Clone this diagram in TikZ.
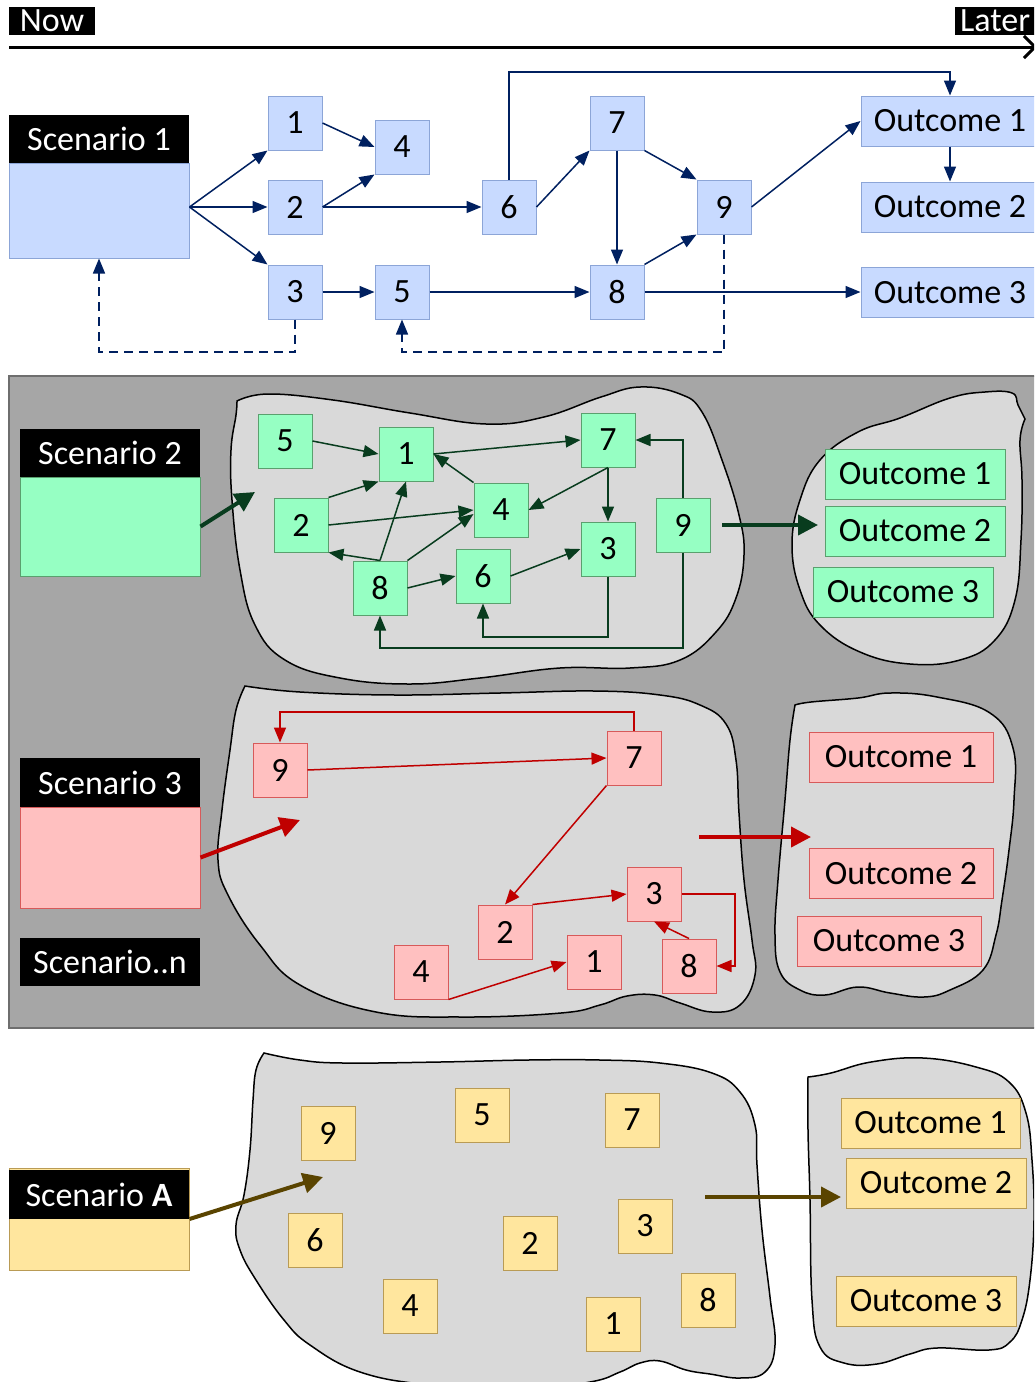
\documentclass[tikz,border=0pt]{standalone}
\usepackage{fontspec}
\setmainfont{Carlito}
\usetikzlibrary{arrows.meta,calc}

\definecolor{navy}{RGB}{0,32,96}
\definecolor{bfill}{RGB}{200,218,255}
\definecolor{bline}{RGB}{140,165,215}
\definecolor{gfill}{RGB}{150,255,195}
\definecolor{gline}{RGB}{90,160,110}
\definecolor{gdark}{RGB}{8,60,30}
\definecolor{rfill}{RGB}{255,192,192}
\definecolor{rline}{RGB}{215,90,90}
\definecolor{rdark}{RGB}{192,0,0}
\definecolor{yfill}{RGB}{255,230,158}
\definecolor{yline}{RGB}{185,155,85}
\definecolor{ydark}{RGB}{90,68,0}
\definecolor{panel}{RGB}{166,166,166}
\definecolor{panelline}{RGB}{110,110,110}
\definecolor{blobfill}{RGB}{217,217,217}

\newcommand\bigtext{\fontsize{34}{40}\selectfont}

\begin{document}
\begin{tikzpicture}[x=1pt,y=-1pt,
  every node/.style={font=\bigtext},
  sq/.style={draw, line width=1pt, minimum width=54pt, minimum height=54pt, inner sep=0pt},
  bsq/.style={sq, fill=bfill, draw=bline},
  gsq/.style={sq, fill=gfill, draw=gline},
  rsq/.style={sq, fill=rfill, draw=rline},
  ysq/.style={sq, fill=yfill, draw=yline},
  outc/.style={draw, line width=1pt, minimum height=50pt, inner sep=0pt},
  hdr/.style={fill=black, text=white, minimum width=180pt, inner sep=0pt},
  tag/.style={fill=black, text=white, minimum height=28pt, inner sep=0pt, inner xsep=5pt},
  blob/.style={draw=black, line width=1.5pt, fill=blobfill},
  thin/.style={line width=1.5pt, -{Triangle[length=15pt,width=12pt]}},
  thick/.style={line width=4pt, -{Triangle[length=20pt,width=20pt]}},
]
\useasboundingbox (0,0) rectangle (1034,1382);
\clip (0,0) rectangle (1034,1382);

% ---------- time axis ----------
\node[tag, minimum width=86pt] (now) at (52,21) {Now};
\node[tag, anchor=west] (later) at (955,21) {Later};
\coordinate (tl0) at (9,47);
\coordinate (tl1) at (1037,47);
\draw[line width=3pt, -{Straight Barb[length=11pt,width=22pt]}] (tl0) -- (tl1);

% ---------- Scenario 1 ----------
\node[hdr, minimum height=48pt] (s1h) at (99,139) {Scenario 1};
\node[draw=bline, fill=bfill, line width=1pt, minimum width=180pt, minimum height=95pt] (s1) at (99,210.5) {};

\node[bsq] (b1) at (295,123) {1};
\node[bsq] (b4) at (402,147) {4};
\node[bsq] (b2) at (295,207) {2};
\node[bsq] (b6) at (509,207) {6};
\node[bsq] (b3) at (295,292) {3};
\node[bsq] (b5) at (402,292) {5};
\node[bsq] (b7) at (617,123) {7};
\node[bsq] (b8) at (617,292) {8};
\node[bsq] (b9) at (724,207) {9};
\node[outc, fill=bfill, draw=bline, minimum width=178pt] (bo1) at (950,121) {Outcome 1};
\node[outc, fill=bfill, draw=bline, minimum width=178pt] (bo2) at (950,207) {Outcome 2};
\node[outc, fill=bfill, draw=bline, minimum width=178pt] (bo3) at (950,292.5) {Outcome 3};

\coordinate (s1o) at (s1.east |- b2.west);
\coordinate (ytop) at (0,72);
\coordinate (ydash) at (0,352);
\begin{scope}[navy, thin]
  \draw (s1o) -- (b1.south west);
  \draw (s1o) -- (b2.west);
  \draw (s1o) -- (b3.north west);
  \draw (b1.east) -- (b4.west);
  \draw (b2.east) -- (b4.south west);
  \draw (b2.east) -- (b6.west);
  \draw (b6.east) -- (b7.south west);
  \draw (b7.south east) -- (b9.north west);
  \draw (b7.south) -- (b8.north);
  \draw (b8.north east) -- (b9.south west);
  \draw (b9.east) -- (bo1.west);
  \draw (b6.north) -- (b6.north |- ytop) -| (bo1.north);
  \draw (bo1.south) -- (bo2.north);
  \draw (b3.east) -- (b5.west);
  \draw (b5.east) -- (b8.west);
  \draw (b8.east) -- (b8.east -| bo3.west);
  \draw[dash pattern=on 9pt off 6pt] (b3.south) -- (b3.south |- ydash) -| (s1.south);
  \draw[dash pattern=on 9pt off 6pt] (b9.south) -- (b9.south |- ydash) -| (b5.south);
\end{scope}

% ---------- grey panel with scenarios 2, 3 ----------
\draw[fill=panel, draw=panelline, line width=1.5pt] (9,376) rectangle (1040,1028);

% scenario 2 clouds
\draw[blob] plot[smooth, tension=0.7] coordinates {(237,401) (268,394) (333,400) (410,413) (486,424) (544,417) (601,397) (640,387) (680,394) (702,412) (722,460) (739,515) (744,555) (736,598) (716,632) (680,660) (630,668) (560,668) (480,678) (410,684) (340,678) (285,660) (255,625) (240,570) (232,500) (231,450) (236,415) (237,401)} -- cycle;
\draw[blob] plot[smooth, tension=0.7] coordinates {(1025,419) (1018,405) (1012,393) (985,392) (950,398) (900,418) (858,432) (820,460) (800,500) (792,545) (800,590) (820,625) (860,652) (910,664) (960,660) (995,640) (1015,600) (1021,540) (1022,480) (1020,440) (1025,419)} -- cycle;

% scenario 3 clouds
\draw[blob] plot[smooth, tension=0.7] coordinates {(245,686) (300,692) (396,695) (500,693) (594,691) (660,695) (700,705) (726,724) (736,760) (739,813) (744,880) (752,940) (755,975) (740,1005) (712,1012) (680,1003) (655,995) (627,996) (600,1005) (561,1013) (462,1017) (376,1012) (300,985) (260,945) (228,895) (218,860) (222,810) (230,750) (236,710) (245,686)} -- cycle;
\draw[blob] plot[smooth, tension=0.7] coordinates {(795,705) (811,702) (858,698) (890,693) (937,697) (990,713) (1013,748) (1014,800) (1009,850) (1002,900) (996,935) (983,970) (950,990) (924,997) (890,993) (858,987) (825,995) (800,990) (780,972) (775,935) (778,880) (785,800) (790,740) (795,705)} -- cycle;

% Scenario 2
\node[hdr, minimum height=48pt] (s2h) at (110,453) {Scenario 2};
\node[draw=gline, fill=gfill, line width=1pt, minimum width=180pt, minimum height=99pt] (s2) at (110,526.5) {};

\node[gsq] (g5) at (285,441) {5};
\node[gsq] (g1) at (406,454) {1};
\node[gsq] (g7) at (608,440) {7};
\node[gsq] (g2) at (301,525) {2};
\node[gsq] (g4) at (501,510) {4};
\node[gsq] (g9) at (683,525) {9};
\node[gsq] (g3) at (608,549) {3};
\node[gsq] (g8) at (380,588) {8};
\node[gsq] (g6) at (483,576) {6};
\node[outc, fill=gfill, draw=gline, minimum width=180pt] (go1) at (915,474) {Outcome 1};
\node[outc, fill=gfill, draw=gline, minimum width=180pt] (go2) at (915,531) {Outcome 2};
\node[outc, fill=gfill, draw=gline, minimum width=180pt] (go3) at (903,592) {Outcome 3};

\coordinate (gin) at (255,492);
\coordinate (gout1) at (722,525);
\coordinate (gout2) at (818,525);
\coordinate (yg1) at (0,637);
\coordinate (yg2) at (0,648);
\begin{scope}[gdark, thin]
  \draw[thick] (s2.east) -- (gin);
  \draw (g5.east) -- (g1.west);
  \draw (g1.east) -- (g7.west);
  \draw (g4.north west) -- (g1.east);
  \draw (g7.south) -- (g4.east);
  \draw (g7.south) -- (g3.north);
  \draw (g2.north east) -- (g1.south west);
  \draw (g2.east) -- (g4.west);
  \draw (g8.north) -- (g2.south east);
  \draw (g8.north) -- (g1.south);
  \draw (g8.north east) -- ([yshift=-4pt]g4.west);
  \draw (g8.east) -- (g6.west);
  \draw (g6.east) -- (g3.west);
  \draw (g3.south) -- (g3.south |- yg1) -| (g6.south);
  \draw (g9.south) -- (g9.south |- yg2) -| (g8.south);
  \draw (g9.north) |- (g7.east);
  \draw[thick] (gout1) -- (gout2);
\end{scope}

% Scenario 3
\node[hdr, minimum height=49pt] (s3h) at (110,782.5) {Scenario 3};
\node[draw=rline, fill=rfill, line width=1pt, minimum width=180pt, minimum height=101pt] (s3) at (110,857.5) {};
\node[hdr, minimum height=48pt] (sn) at (110,962) {Scenario..n};

\node[rsq] (r9) at (280,770) {9};
\node[rsq] (r7) at (634,758) {7};
\node[rsq] (r3) at (654,894) {3};
\node[rsq] (r2) at (505,932) {2};
\node[rsq] (r1) at (594,962) {1};
\node[rsq] (r4) at (421,972) {4};
\node[rsq] (r8) at (689,966) {8};
\node[outc, fill=rfill, draw=rline, minimum width=184pt] (ro1) at (901,757) {Outcome 1};
\node[outc, fill=rfill, draw=rline, minimum width=184pt] (ro2) at (901,873.5) {Outcome 2};
\node[outc, fill=rfill, draw=rline, minimum width=184pt] (ro3) at (889,941) {Outcome 3};

\coordinate (rin) at (300,820);
\coordinate (rout1) at (699,837);
\coordinate (rout2) at (811,837);
\coordinate (yr1) at (0,712);
\coordinate (xr) at (735,0);
\begin{scope}[rdark, thin]
  \draw[thick] (s3.east) -- (rin);
  \draw (r7.north) -- (r7.north |- yr1) -| (r9.north);
  \draw (r9.east) -- (r7.west);
  \draw (r7.south west) -- (r2.north);
  \draw (r2.north east) -- (r3.west);
  \draw (r3.east) -- (r3.east -| xr) |- (r8.east);
  \draw (r8.north) -- (r3.south);
  \draw (r4.south east) -- (r1.west);
  \draw[thick] (rout1) -- (rout2);
\end{scope}

% ---------- Scenario A ----------
\draw[blob] plot[smooth, tension=0.7] coordinates {(264,1053) (300,1060) (343,1063) (440,1062) (528,1060) (600,1060) (660,1063) (712,1073) (740,1092) (755,1125) (757,1165) (762,1230) (770,1297) (775,1345) (765,1372) (740,1378) (710,1374) (686,1370) (660,1361) (640,1363) (620,1372) (590,1382) (520,1390) (430,1385) (360,1372) (310,1345) (284,1320) (256,1280) (240,1250) (236,1225) (244,1195) (250,1150) (253,1100) (256,1070) (264,1053)} -- cycle;
\draw[blob] plot[smooth, tension=0.7] coordinates {(808,1077) (831,1073) (871,1062) (923,1058) (976,1067) (1009,1082) (1026,1113) (1032,1160) (1034,1220) (1030,1280) (1022,1320) (1010,1342) (989,1350) (937,1348) (910,1354) (877,1364) (844,1363) (820,1347) (812,1300) (810,1200) (808,1130) (808,1077)} -- cycle;

\node[draw=yline, fill=yfill, line width=1pt, minimum width=180pt, minimum height=102pt] (sA) at (99,1219) {};
\node[hdr, minimum height=49pt] (sAh) at (99,1194.5) {Scenario \textbf{A}};

\node[ysq] (y9) at (328,1133) {9};
\node[ysq] (y5) at (482,1115) {5};
\node[ysq] (y7) at (632,1120) {7};
\node[ysq] (y6) at (315,1240) {6};
\node[ysq] (y2) at (530,1243) {2};
\node[ysq] (y3) at (645,1226) {3};
\node[ysq] (y8) at (708,1300) {8};
\node[ysq] (y4) at (410,1306) {4};
\node[ysq] (y1) at (613,1324) {1};
\node[outc, fill=yfill, draw=yline, minimum width=179pt] (yo1) at (930.5,1123) {Outcome 1};
\node[outc, fill=yfill, draw=yline, minimum width=180pt] (yo2) at (936,1183) {Outcome 2};
\node[outc, fill=yfill, draw=yline, minimum width=180pt] (yo3) at (926,1301) {Outcome 3};

\coordinate (yin) at (323,1177);
\coordinate (yout1) at (705,1197);
\coordinate (yout2) at (841,1197);
\begin{scope}[ydark]
  \draw[thick] (sA.east) -- (yin);
  \draw[thick] (yout1) -- (yout2);
\end{scope}
\end{tikzpicture}
\end{document}
